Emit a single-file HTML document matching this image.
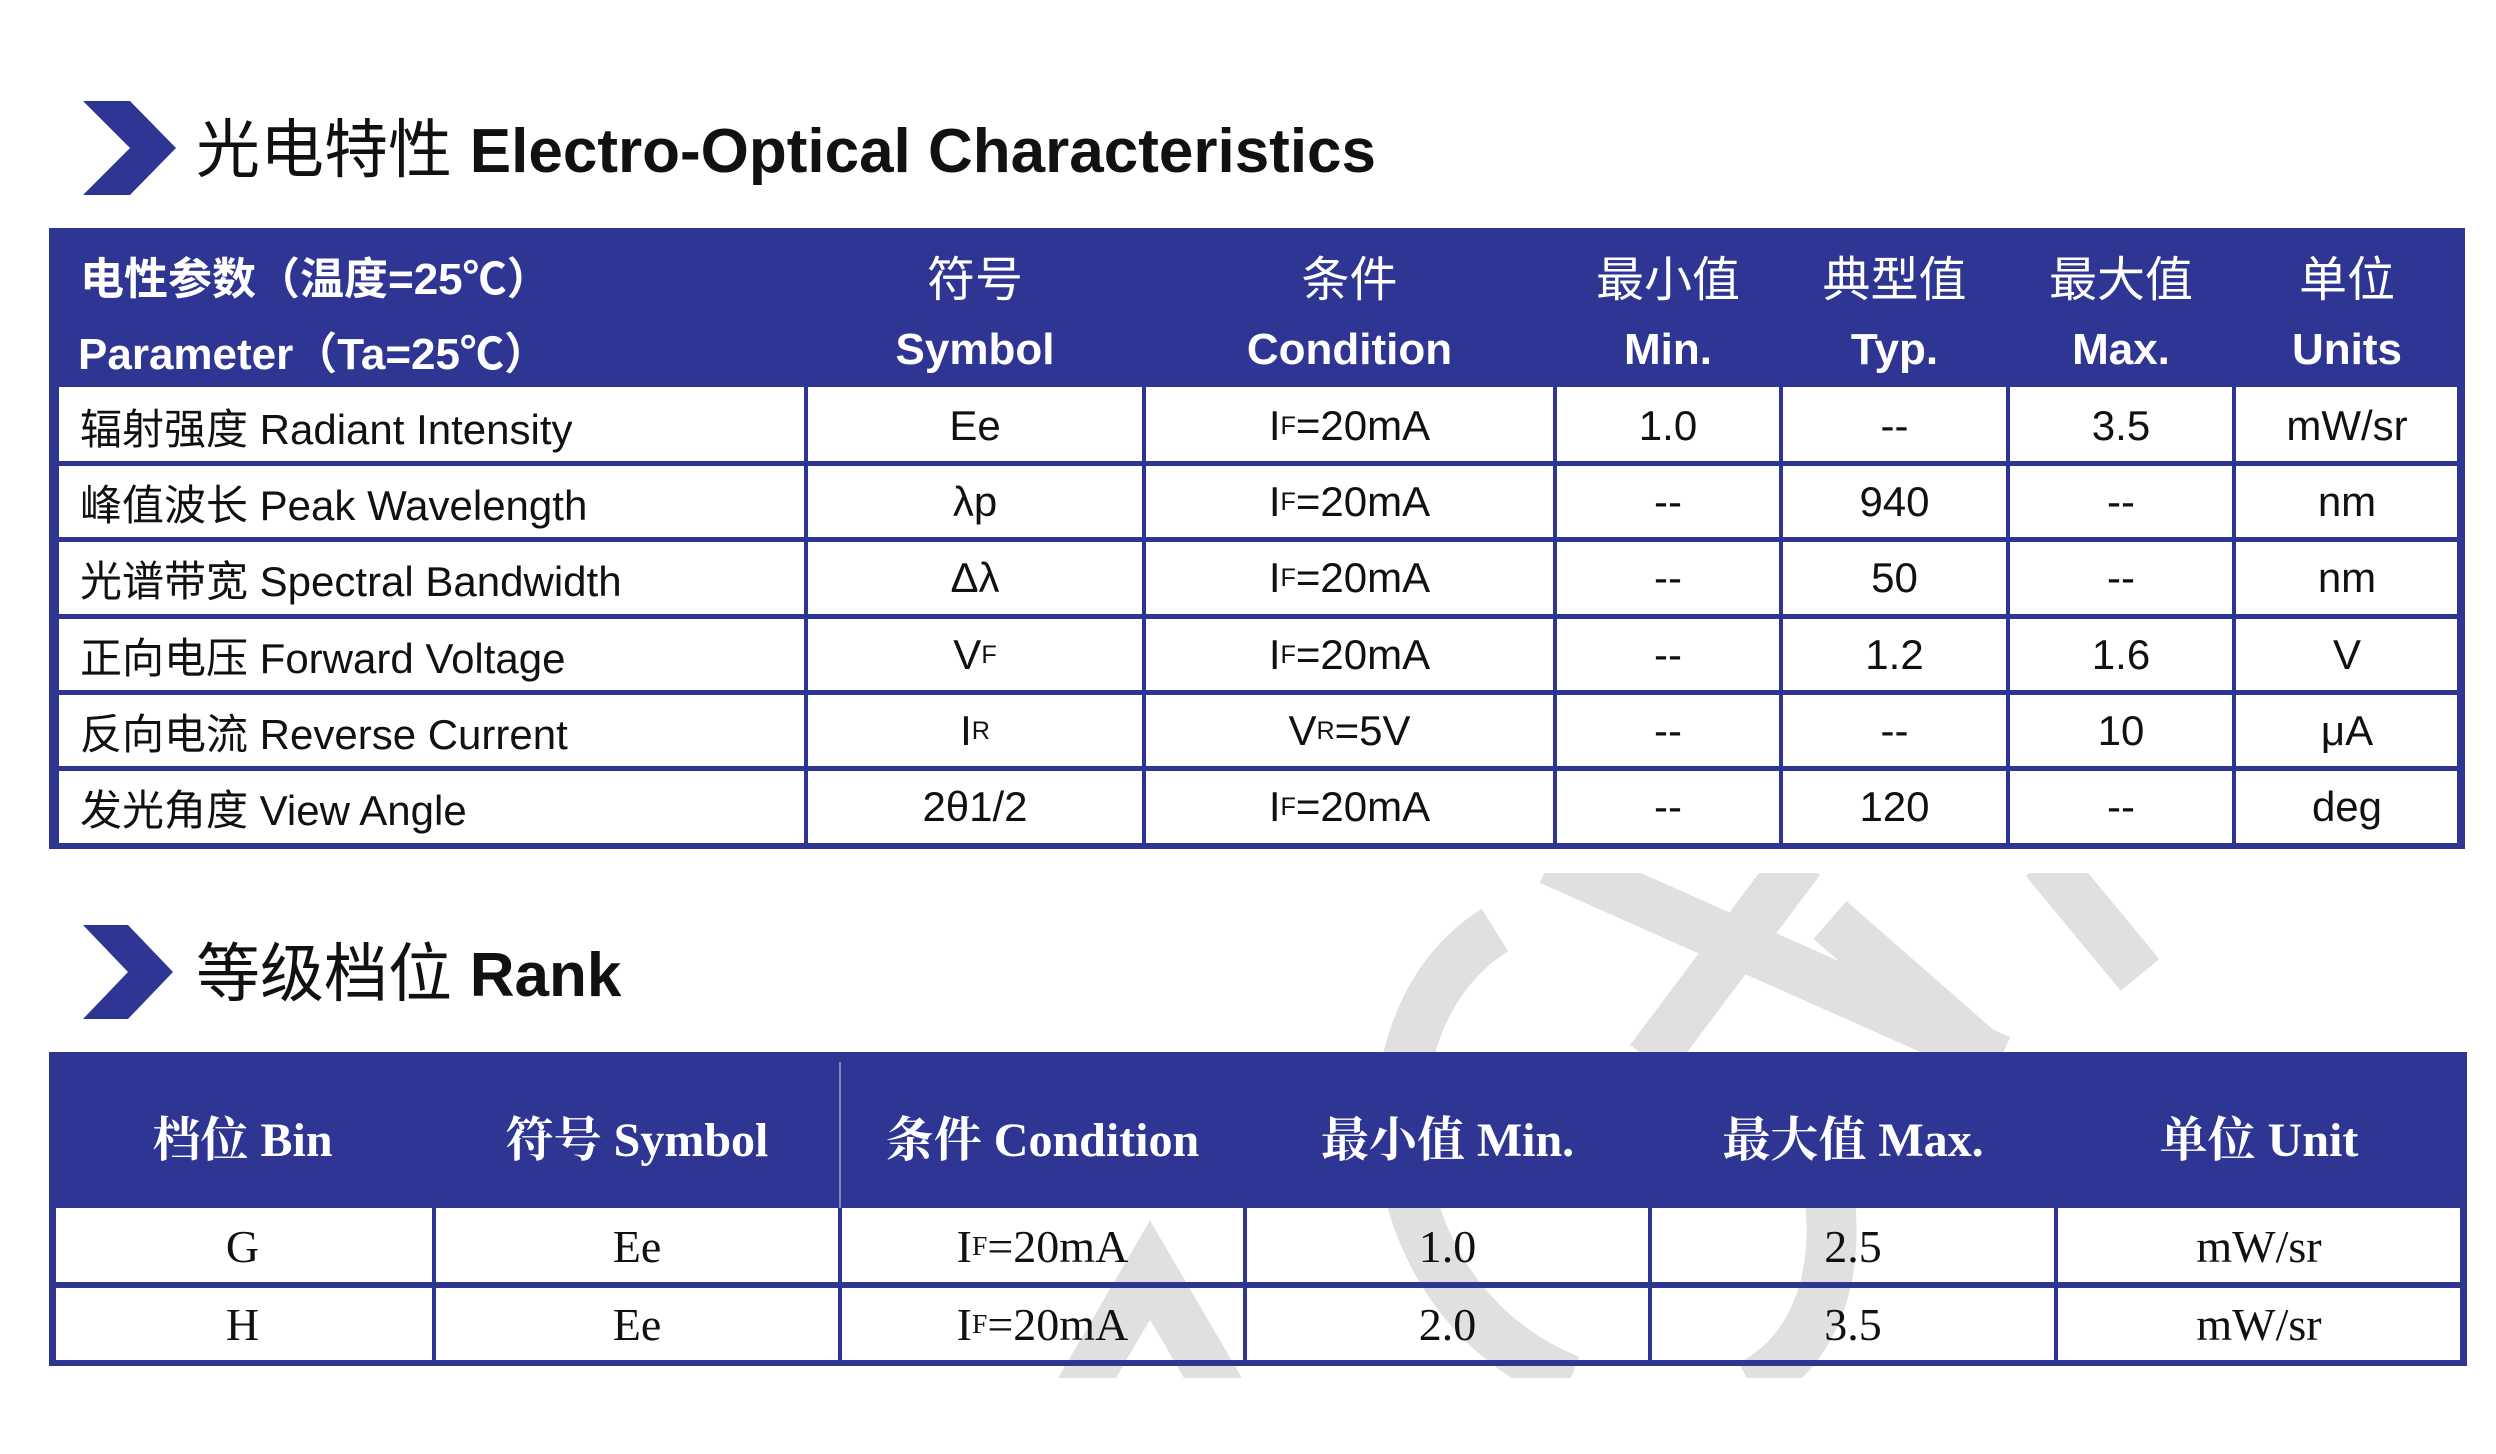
<!DOCTYPE html>
<html><head><meta charset="utf-8"><style>
body{margin:0;width:2496px;height:1454px;background:#fff;position:relative;overflow:hidden;font-family:"Liberation Sans","Noto Sans CJK SC",sans-serif;}
.a{position:absolute;display:flex;align-items:center;justify-content:center;white-space:nowrap;}
.h{color:#fff;font-weight:bold;font-size:44px;}
.b{color:#111;font-size:42px;}
.s{font-family:"Liberation Serif","Noto Serif CJK SC",serif;}
.hl{position:absolute;background:#2e3592;}
sub{font-size:60%;vertical-align:-4px;}
</style></head><body>
<svg width="2496" height="1454" style="position:absolute;left:0;top:0">
<defs><clipPath id="c"><rect x="0" y="873" width="2496" height="505"/></clipPath></defs>
<g clip-path="url(#c)" stroke="#e0e0e0" stroke-width="50" fill="none">
<path d="M1550,860 L2000,1060"/>
<path d="M1800,860 L1650,1060"/>
<path d="M1830,920 L1990,1060"/>
<path d="M2045,860 L2140,975"/>
<path d="M1495,930 C1350,1020 1370,1300 1570,1380"/>
<path d="M1830,1200 C1840,1300 1800,1360 1750,1385"/>
<path d="M1080,1390 L1150,1270 L1220,1390"/>
</g>
<polygon points="83,101 130,101 176,148 130,195 83,195 130,148" fill="#2e3592"/>
<polygon points="83,925 128,925 173,972 128,1019 83,1019 128,972" fill="#2e3592"/>
</svg>
<div style="position:absolute;left:196px;top:118px;font-size:64px;color:#111;white-space:nowrap;line-height:1">光电特性 <b style="font-size:62px">Electro-Optical Characteristics</b></div>
<div style="position:absolute;left:196px;top:942px;font-size:64px;color:#111;white-space:nowrap;line-height:1">等级档位 <b style="font-size:62px">Rank</b></div>

<!-- table 1 -->
<div style="position:absolute;left:49px;top:228px;width:2416px;height:159px;background:#2e3592"></div>
<div class="hl" style="left:49px;top:228px;width:10px;height:621px"></div>
<div class="hl" style="left:2457px;top:228px;width:8px;height:621px"></div>
<div class="hl" style="left:49px;top:843px;width:2416px;height:6px"></div>
<div class="hl" style="left:59px;top:461px;width:2400px;height:5px"></div>
<div class="hl" style="left:59px;top:537px;width:2400px;height:5px"></div>
<div class="hl" style="left:59px;top:614px;width:2400px;height:5px"></div>
<div class="hl" style="left:59px;top:690px;width:2400px;height:5px"></div>
<div class="hl" style="left:59px;top:766px;width:2400px;height:5px"></div>
<div class="hl" style="left:804px;top:387px;width:4px;height:460px"></div>
<div class="hl" style="left:1142px;top:387px;width:4px;height:460px"></div>
<div class="hl" style="left:1553px;top:387px;width:4px;height:460px"></div>
<div class="hl" style="left:1779px;top:387px;width:4px;height:460px"></div>
<div class="hl" style="left:2006px;top:387px;width:4px;height:460px"></div>
<div class="hl" style="left:2232px;top:387px;width:4px;height:460px"></div>

<div class="a h" style="left:80px;top:245px;height:60px;justify-content:flex-start">电性参数（温度=25℃）</div>
<div class="a h" style="left:78px;top:320px;height:60px;justify-content:flex-start">Parameter（Ta=25℃）</div>
<div class="a h" style="left:806px;top:245px;width:338px;height:60px;font-weight:normal;font-size:48px">符号</div>
<div class="a h" style="left:806px;top:320px;width:338px;height:60px">Symbol</div>
<div class="a h" style="left:1144px;top:245px;width:411px;height:60px;font-weight:normal;font-size:48px">条件</div>
<div class="a h" style="left:1144px;top:320px;width:411px;height:60px">Condition</div>
<div class="a h" style="left:1555px;top:245px;width:226px;height:60px;font-weight:normal;font-size:48px">最小值</div>
<div class="a h" style="left:1555px;top:320px;width:226px;height:60px">Min.</div>
<div class="a h" style="left:1781px;top:245px;width:227px;height:60px;font-weight:normal;font-size:48px">典型值</div>
<div class="a h" style="left:1781px;top:320px;width:227px;height:60px">Typ.</div>
<div class="a h" style="left:2008px;top:245px;width:226px;height:60px;font-weight:normal;font-size:48px">最大值</div>
<div class="a h" style="left:2008px;top:320px;width:226px;height:60px">Max.</div>
<div class="a h" style="left:2234px;top:245px;width:226px;height:60px;font-weight:normal;font-size:48px">单位</div>
<div class="a h" style="left:2234px;top:320px;width:226px;height:60px">Units</div>

<div class="a b" style="left:80px;top:390px;height:72px;justify-content:flex-start">辐射强度 Radiant Intensity</div>
<div class="a b" style="left:80px;top:466px;height:72px;justify-content:flex-start">峰值波长 Peak Wavelength</div>
<div class="a b" style="left:80px;top:542px;height:72px;justify-content:flex-start">光谱带宽 Spectral Bandwidth</div>
<div class="a b" style="left:80px;top:619px;height:72px;justify-content:flex-start">正向电压 Forward Voltage</div>
<div class="a b" style="left:80px;top:695px;height:72px;justify-content:flex-start">反向电流 Reverse Current</div>
<div class="a b" style="left:80px;top:771px;height:72px;justify-content:flex-start">发光角度 View Angle</div>

<div class="a b" style="left:806px;top:390px;width:338px;height:72px">Ee</div>
<div class="a b" style="left:806px;top:466px;width:338px;height:72px">λp</div>
<div class="a b" style="left:806px;top:542px;width:338px;height:72px">Δλ</div>
<div class="a b" style="left:806px;top:619px;width:338px;height:72px">V<sub>F</sub></div>
<div class="a b" style="left:806px;top:695px;width:338px;height:72px">I<sub>R</sub></div>
<div class="a b" style="left:806px;top:771px;width:338px;height:72px">2θ1/2</div>

<div class="a b" style="left:1144px;top:390px;width:411px;height:72px">I<sub>F</sub>=20mA</div>
<div class="a b" style="left:1144px;top:466px;width:411px;height:72px">I<sub>F</sub>=20mA</div>
<div class="a b" style="left:1144px;top:542px;width:411px;height:72px">I<sub>F</sub>=20mA</div>
<div class="a b" style="left:1144px;top:619px;width:411px;height:72px">I<sub>F</sub>=20mA</div>
<div class="a b" style="left:1144px;top:695px;width:411px;height:72px">V<sub>R</sub>=5V</div>
<div class="a b" style="left:1144px;top:771px;width:411px;height:72px">I<sub>F</sub>=20mA</div>

<div class="a b" style="left:1555px;top:390px;width:226px;height:72px">1.0</div>
<div class="a b" style="left:1555px;top:466px;width:226px;height:72px">--</div>
<div class="a b" style="left:1555px;top:542px;width:226px;height:72px">--</div>
<div class="a b" style="left:1555px;top:619px;width:226px;height:72px">--</div>
<div class="a b" style="left:1555px;top:695px;width:226px;height:72px">--</div>
<div class="a b" style="left:1555px;top:771px;width:226px;height:72px">--</div>

<div class="a b" style="left:1781px;top:390px;width:227px;height:72px">--</div>
<div class="a b" style="left:1781px;top:466px;width:227px;height:72px">940</div>
<div class="a b" style="left:1781px;top:542px;width:227px;height:72px">50</div>
<div class="a b" style="left:1781px;top:619px;width:227px;height:72px">1.2</div>
<div class="a b" style="left:1781px;top:695px;width:227px;height:72px">--</div>
<div class="a b" style="left:1781px;top:771px;width:227px;height:72px">120</div>

<div class="a b" style="left:2008px;top:390px;width:226px;height:72px">3.5</div>
<div class="a b" style="left:2008px;top:466px;width:226px;height:72px">--</div>
<div class="a b" style="left:2008px;top:542px;width:226px;height:72px">--</div>
<div class="a b" style="left:2008px;top:619px;width:226px;height:72px">1.6</div>
<div class="a b" style="left:2008px;top:695px;width:226px;height:72px">10</div>
<div class="a b" style="left:2008px;top:771px;width:226px;height:72px">--</div>

<div class="a b" style="left:2234px;top:390px;width:226px;height:72px">mW/sr</div>
<div class="a b" style="left:2234px;top:466px;width:226px;height:72px">nm</div>
<div class="a b" style="left:2234px;top:542px;width:226px;height:72px">nm</div>
<div class="a b" style="left:2234px;top:619px;width:226px;height:72px">V</div>
<div class="a b" style="left:2234px;top:695px;width:226px;height:72px">μA</div>
<div class="a b" style="left:2234px;top:771px;width:226px;height:72px">deg</div>

<!-- table 2 -->
<div style="position:absolute;left:49px;top:1052px;width:2418px;height:156px;background:#2e3592"></div>
<div style="position:absolute;left:839px;top:1062px;width:2px;height:146px;background:#8088c0"></div>
<div class="hl" style="left:49px;top:1052px;width:7px;height:314px"></div>
<div class="hl" style="left:2460px;top:1052px;width:7px;height:314px"></div>
<div class="hl" style="left:49px;top:1282px;width:2418px;height:6px"></div>
<div class="hl" style="left:49px;top:1360px;width:2418px;height:6px"></div>
<div class="hl" style="left:432px;top:1208px;width:4px;height:156px"></div>
<div class="hl" style="left:838px;top:1208px;width:4px;height:156px"></div>
<div class="hl" style="left:1243px;top:1208px;width:4px;height:156px"></div>
<div class="hl" style="left:1648px;top:1208px;width:4px;height:156px"></div>
<div class="hl" style="left:2054px;top:1208px;width:4px;height:156px"></div>

<div class="a h s" style="left:51px;top:1100px;width:383px;height:70px;font-size:48px">档位 Bin</div>
<div class="a h s" style="left:434px;top:1100px;width:406px;height:70px;font-size:48px">符号 Symbol</div>
<div class="a h s" style="left:840px;top:1100px;width:405px;height:70px;font-size:48px">条件 Condition</div>
<div class="a h s" style="left:1245px;top:1100px;width:405px;height:70px;font-size:48px">最小值 Min.</div>
<div class="a h s" style="left:1650px;top:1100px;width:406px;height:70px;font-size:48px">最大值 Max.</div>
<div class="a h s" style="left:2056px;top:1100px;width:406px;height:70px;font-size:48px">单位 Unit</div>

<div class="a b s" style="left:51px;top:1210px;width:383px;height:72px;font-size:46px">G</div>
<div class="a b s" style="left:434px;top:1210px;width:406px;height:72px;font-size:46px">Ee</div>
<div class="a b s" style="left:840px;top:1210px;width:405px;height:72px;font-size:46px">I<sub>F</sub>=20mA</div>
<div class="a b s" style="left:1245px;top:1210px;width:405px;height:72px;font-size:46px">1.0</div>
<div class="a b s" style="left:1650px;top:1210px;width:406px;height:72px;font-size:46px">2.5</div>
<div class="a b s" style="left:2056px;top:1210px;width:406px;height:72px;font-size:46px">mW/sr</div>
<div class="a b s" style="left:51px;top:1288px;width:383px;height:72px;font-size:46px">H</div>
<div class="a b s" style="left:434px;top:1288px;width:406px;height:72px;font-size:46px">Ee</div>
<div class="a b s" style="left:840px;top:1288px;width:405px;height:72px;font-size:46px">I<sub>F</sub>=20mA</div>
<div class="a b s" style="left:1245px;top:1288px;width:405px;height:72px;font-size:46px">2.0</div>
<div class="a b s" style="left:1650px;top:1288px;width:406px;height:72px;font-size:46px">3.5</div>
<div class="a b s" style="left:2056px;top:1288px;width:406px;height:72px;font-size:46px">mW/sr</div>
</body></html>
